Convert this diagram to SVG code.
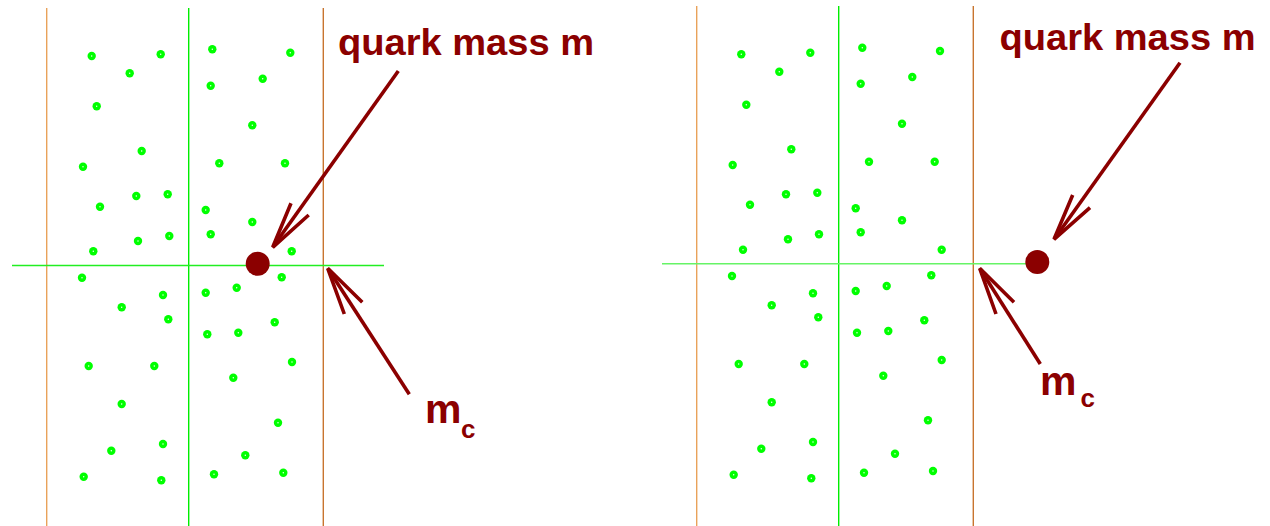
<svg xmlns="http://www.w3.org/2000/svg" xmlns:xlink="http://www.w3.org/1999/xlink" width="1270" height="526" viewBox="0 0 1270 526">
<style>
.lbl{font-family:"Liberation Sans",Arial,Helvetica,sans-serif;font-weight:bold;fill:#8b0000}
.arr{fill:none;stroke:#8b0000;stroke-width:3.6;stroke-linecap:butt;stroke-linejoin:miter}
.vo1{stroke:#e9a25a;stroke-width:1.4}
.vo2{stroke:#c8752f;stroke-width:1.4}
.vg{stroke:#00ee00;stroke-width:1.4}
.hg{stroke:#22ee22;stroke-width:1.4}
.qk{fill:#8b0000}
</style>
<defs>
<g id="dot"><circle r="4.2" fill="#00ff00"/><circle r="0.7" fill="#ffffff"/></g>
</defs>
<rect width="1270" height="526" fill="#ffffff"/>
<g id="panel-left">
<line class="vo1" x1="46.7" y1="8" x2="46.7" y2="526"/>
<line class="vg" x1="188.7" y1="8" x2="188.7" y2="526"/>
<line class="vo2" x1="323.3" y1="8" x2="323.3" y2="526"/>
<line class="hg" x1="12" y1="265.5" x2="384" y2="265.5"/>
<g id="dots-left">
<use xlink:href="#dot" x="91.7" y="56"/><use xlink:href="#dot" x="160.7" y="54.3"/><use xlink:href="#dot" x="129.7" y="73.3"/>
<use xlink:href="#dot" x="212.3" y="49.3"/><use xlink:href="#dot" x="290.3" y="52.7"/><use xlink:href="#dot" x="210.7" y="85.7"/>
<use xlink:href="#dot" x="262.7" y="78.7"/><use xlink:href="#dot" x="96.7" y="106.3"/><use xlink:href="#dot" x="252.3" y="125.3"/>
<use xlink:href="#dot" x="141.7" y="151"/><use xlink:href="#dot" x="83" y="166.7"/><use xlink:href="#dot" x="219.3" y="163.3"/>
<use xlink:href="#dot" x="285" y="163.3"/><use xlink:href="#dot" x="100" y="206.7"/><use xlink:href="#dot" x="136.3" y="196"/>
<use xlink:href="#dot" x="167.7" y="194.3"/><use xlink:href="#dot" x="205.7" y="210"/><use xlink:href="#dot" x="252.3" y="222"/>
<use xlink:href="#dot" x="138" y="241"/><use xlink:href="#dot" x="169.3" y="236"/><use xlink:href="#dot" x="210.7" y="234.3"/>
<use xlink:href="#dot" x="93.3" y="251.3"/><use xlink:href="#dot" x="291.7" y="251.3"/>
<use xlink:href="#dot" x="82" y="277.7"/><use xlink:href="#dot" x="163" y="295"/><use xlink:href="#dot" x="121.7" y="307.3"/>
<use xlink:href="#dot" x="168.3" y="319.3"/><use xlink:href="#dot" x="205.7" y="292.7"/><use xlink:href="#dot" x="236.7" y="287.7"/>
<use xlink:href="#dot" x="281.7" y="277.3"/><use xlink:href="#dot" x="207.3" y="334.3"/><use xlink:href="#dot" x="238.3" y="332.7"/>
<use xlink:href="#dot" x="274.7" y="322.3"/><use xlink:href="#dot" x="88.7" y="366"/><use xlink:href="#dot" x="154.3" y="366"/>
<use xlink:href="#dot" x="292" y="362"/><use xlink:href="#dot" x="233.3" y="377.7"/><use xlink:href="#dot" x="121.7" y="404"/>
<use xlink:href="#dot" x="278" y="422.7"/><use xlink:href="#dot" x="111.3" y="450.7"/><use xlink:href="#dot" x="163" y="444"/>
<use xlink:href="#dot" x="245.3" y="455.3"/><use xlink:href="#dot" x="83.7" y="476.7"/><use xlink:href="#dot" x="161.3" y="480.3"/>
<use xlink:href="#dot" x="214" y="474.3"/><use xlink:href="#dot" x="283.3" y="472.7"/>
</g>
</g>
<g id="panel-right">
<line class="vo1" x1="696.7" y1="6" x2="696.7" y2="526"/>
<line class="vg" x1="838.7" y1="6" x2="838.7" y2="526"/>
<line class="vo2" x1="973.3" y1="6" x2="973.3" y2="526"/>
<line class="hg" x1="662" y1="263.7" x2="1027" y2="263.7" style="stroke:#66f466"/>
<g id="dots-right">
<use xlink:href="#dot" x="741.3" y="54.3"/><use xlink:href="#dot" x="810.3" y="52.7"/><use xlink:href="#dot" x="779.3" y="71.7"/>
<use xlink:href="#dot" x="862.3" y="47.7"/><use xlink:href="#dot" x="940" y="51"/><use xlink:href="#dot" x="860.7" y="83.7"/>
<use xlink:href="#dot" x="912.3" y="77"/><use xlink:href="#dot" x="746.3" y="104.7"/><use xlink:href="#dot" x="902" y="123.7"/>
<use xlink:href="#dot" x="791.3" y="149.3"/><use xlink:href="#dot" x="732.7" y="165"/><use xlink:href="#dot" x="869" y="161.7"/>
<use xlink:href="#dot" x="934.7" y="161.7"/><use xlink:href="#dot" x="750" y="204.7"/><use xlink:href="#dot" x="786" y="194.3"/>
<use xlink:href="#dot" x="817.3" y="192.7"/><use xlink:href="#dot" x="855.7" y="208.3"/><use xlink:href="#dot" x="902" y="220.3"/>
<use xlink:href="#dot" x="788" y="239.3"/><use xlink:href="#dot" x="819" y="234.3"/><use xlink:href="#dot" x="860.7" y="232.3"/>
<use xlink:href="#dot" x="743" y="249.7"/><use xlink:href="#dot" x="941.7" y="249.7"/>
<use xlink:href="#dot" x="732" y="276"/><use xlink:href="#dot" x="813" y="293.3"/><use xlink:href="#dot" x="771.7" y="305.3"/>
<use xlink:href="#dot" x="818.3" y="317.3"/><use xlink:href="#dot" x="855.7" y="291"/><use xlink:href="#dot" x="886.7" y="286"/>
<use xlink:href="#dot" x="931.3" y="275.3"/><use xlink:href="#dot" x="857" y="332.7"/><use xlink:href="#dot" x="888.3" y="331"/>
<use xlink:href="#dot" x="924.3" y="320.3"/><use xlink:href="#dot" x="738.7" y="364"/><use xlink:href="#dot" x="804.3" y="364"/>
<use xlink:href="#dot" x="941.7" y="360"/><use xlink:href="#dot" x="883.3" y="375.7"/><use xlink:href="#dot" x="771.7" y="402.3"/>
<use xlink:href="#dot" x="928" y="420.3"/><use xlink:href="#dot" x="761.3" y="448.7"/><use xlink:href="#dot" x="813" y="442"/>
<use xlink:href="#dot" x="895" y="453.7"/><use xlink:href="#dot" x="733.7" y="474.7"/><use xlink:href="#dot" x="811.3" y="478.3"/>
<use xlink:href="#dot" x="864" y="472.7"/><use xlink:href="#dot" x="933" y="471"/>
</g>
</g>
<g id="quark-left"><circle class="qk" cx="257.7" cy="263.7" r="12"/></g>
<g id="quark-right"><circle class="qk" cx="1037.3" cy="262" r="12"/></g>
<g id="label-quark-left"><text class="lbl" x="338" y="55" font-size="36" textLength="256" lengthAdjust="spacingAndGlyphs">quark mass m</text></g>
<g id="label-quark-right"><text class="lbl" x="999.5" y="50" font-size="36" textLength="256" lengthAdjust="spacingAndGlyphs">quark mass m</text></g>
<g id="label-mc-left"><text class="lbl" x="425" y="422.7" font-size="41">m</text><text class="lbl" x="461" y="437.5" font-size="26">c</text></g>
<g id="label-mc-right"><text class="lbl" x="1040" y="395" font-size="41">m</text><text class="lbl" x="1080.5" y="406.5" font-size="26">c</text></g>
<g id="connectors">
<line class="arr" x1="398.3" y1="71" x2="273.5" y2="246"/>
<polyline class="arr" points="291,203.3 272.7,247.3 308.7,215"/>
<line class="arr" x1="409.3" y1="394.3" x2="328.5" y2="269.5"/>
<polyline class="arr" points="344.3,314 327.7,268.3 362.3,302.3"/>
<line class="arr" x1="1180" y1="62.7" x2="1055" y2="238"/>
<polyline class="arr" points="1072.7,195 1054,239.3 1090,207.7"/>
<line class="arr" x1="1040.3" y1="364" x2="980.5" y2="269.5"/>
<polyline class="arr" points="996,314 979.7,268.3 1014,302.3"/>
</g>
</svg>
